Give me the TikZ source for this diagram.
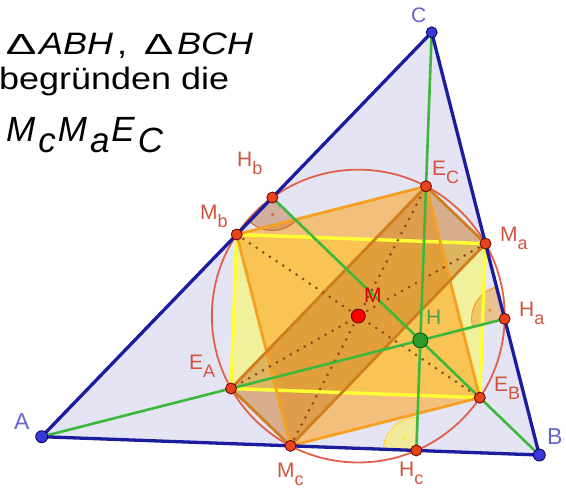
\documentclass[tikz,border=0pt]{standalone}
\usepackage{fontspec}
\setmainfont{Liberation Sans}
\newfontfamily\tf[FakeStretch=1.16]{Liberation Sans}
\usetikzlibrary{calc,angles}
\definecolor{tri}{HTML}{E4E4F5}
\definecolor{triedge}{HTML}{1C1CA0}
\definecolor{grn}{HTML}{3DB83D}
\definecolor{circ}{HTML}{E0604A}
\definecolor{yel}{HTML}{FFFF33}
\definecolor{org}{HTML}{FFA31A}
\definecolor{brn}{HTML}{CC7A22}
\definecolor{orgline}{HTML}{F5A020}
\definecolor{brnline}{HTML}{CF7E1E}
\definecolor{dotc}{HTML}{8E4A1E}
\definecolor{angorg}{HTML}{F5A030}
\definecolor{angbrn}{HTML}{C07038}
\definecolor{angyel}{HTML}{FFF040}
\definecolor{ptred}{HTML}{E8441C}
\definecolor{ptblue}{HTML}{3838D8}
\definecolor{ptgreen}{HTML}{2E9A2E}
\definecolor{labred}{HTML}{D4533C}
\definecolor{labblue}{HTML}{6464CC}
\definecolor{labgreen}{HTML}{4E9E4E}
\newcommand{\lsub}[1]{\raisebox{-8pt}{\fontsize{18}{18}\selectfont #1}}
\newcommand{\tsub}[1]{\kern3pt\raisebox{-11pt}{#1}\kern2pt}
\begin{document}
\begin{tikzpicture}[x=1pt,y=1pt,
  lab/.style={inner sep=0pt, anchor=base west, font=\fontsize{21}{21}\selectfont},
  ttl/.style={inner sep=0pt, anchor=base west},
  pt/.style={circle, inner sep=0pt, minimum size=11pt, draw=black!60!red, line width=0.8pt, fill=ptred},
  side/.style={line width=2.8pt, line join=round},
  anglemark/.style={angle radius=33pt, line width=1pt}]
\useasboundingbox (0,0) rectangle (566,492);
\coordinate (A) at (41.7,55.3);
\coordinate (B) at (539.3,37);
\coordinate (C) at (431.7,459.7);
\coordinate (Ha) at ($(B)!(A)!(C)$);
\coordinate (Hb) at ($(A)!(B)!(C)$);
\coordinate (Hc) at ($(A)!(C)!(B)$);
\coordinate (H) at (intersection of A--Ha and B--Hb);
\coordinate (Ma) at ($(B)!0.5!(C)$);
\coordinate (Mb) at ($(A)!0.5!(C)$);
\coordinate (Mc) at ($(A)!0.5!(B)$);
\coordinate (EA) at ($(A)!0.5!(H)$);
\coordinate (EB) at ($(B)!0.5!(H)$);
\coordinate (EC) at ($(C)!0.5!(H)$);
\coordinate (M) at ($(Ma)!0.5!(EA)$);
% triangle fill
\fill[tri] (A)--(B)--(C)--cycle;
% rectangle fills
\fill[yel, fill opacity=0.45] (Mb)--(Ma)--(EB)--(EA)--cycle;
\fill[org, fill opacity=0.55] (Mb)--(EC)--(EB)--(Mc)--cycle;
\fill[brn, fill opacity=0.5] (Mc)--(Ma)--(EC)--(EA)--cycle;
% nine-point circle
\draw[circ, line width=1.8pt] let \p1=($(Ma)-(M)$), \n1={veclen(\x1,\y1)} in (M) circle (\n1);
% right-angle marks
\pic[anglemark, draw=angorg, fill=angorg, fill opacity=0.5] {angle=C--Ha--A};
\pic[anglemark, draw=angbrn, fill=angbrn, fill opacity=0.45] {angle=A--Hb--B};
\pic[anglemark, draw=angyel!80!orange, fill=angyel, fill opacity=0.5] {angle=C--Hc--A};
\fill[angorg!90!black] ($($(Ha)!12pt!(C)$)+($(Ha)!12pt!(A)$)-(Ha)$) circle (1.8pt);
\fill[angbrn] ($($(Hb)!12pt!(A)$)+($(Hb)!12pt!(B)$)-(Hb)$) circle (1.8pt);
\fill[angyel!90!orange] ($($(Hc)!12pt!(C)$)+($(Hc)!12pt!(A)$)-(Hc)$) circle (1.8pt);
% rectangle sides
\draw[yel, side, line width=3.4pt] (Mb)--(Ma)--(EB)--(EA)--cycle;
\draw[orgline, side] (Mb)--(EC)--(EB)--(Mc)--cycle;
\draw[brnline, side] (Mc)--(Ma)--(EC)--(EA)--cycle;
% diameters
\draw[dotc, line width=3pt, line cap=round, dash pattern=on 0pt off 8pt] (Ma)--(EA) (Mb)--(EB) (Mc)--(EC);
% altitudes
\draw[grn, line width=2.6pt] (A)--(Ha) (B)--(Hb) (C)--(Hc);
% triangle sides
\draw[triedge, line width=3.3pt, line join=round] (A)--(B)--(C)--cycle;
% points
\node[pt] (pMa) at (Ma) {};
\node[pt] (pMb) at (Mb) {};
\node[pt] (pMc) at (Mc) {};
\node[pt] (pEA) at (EA) {};
\node[pt] (pEB) at (EB) {};
\node[pt] (pEC) at (EC) {};
\node[pt] (pHa) at (Ha) {};
\node[pt] (pHb) at (Hb) {};
\node[pt] (pHc) at (Hc) {};
\node[pt, fill=red, minimum size=14pt] (pM) at (M) {};
\node[pt, fill=ptgreen, draw=black!70!green, minimum size=15pt] (pH) at (H) {};
\node[pt, fill=ptblue, draw=black!70!blue, minimum size=12pt] (pA) at (A) {};
\node[pt, fill=ptblue, draw=black!70!blue, minimum size=12pt] (pB) at (B) {};
\node[pt, fill=ptblue, draw=black!70!blue, minimum size=11pt] (pC) at (C) {};
% labels
\node[lab, labblue, font=\fontsize{23}{23}\selectfont] (lA) at (14,62) {A};
\node[lab, labblue, font=\fontsize{23}{23}\selectfont] (lB) at (547,47) {B};
\node[lab, labblue, font=\fontsize{21}{21}\selectfont] (lC) at (411,469) {C};
\node[lab, labred] (lHb) at (237,325) {H\lsub{b}};
\node[lab, labred] (lMb) at (200,272) {M\lsub{b}};
\node[lab, labred] (lEC) at (432,316) {E\lsub{C}};
\node[lab, labred] (lMa) at (500,250) {M\lsub{a}};
\node[lab, labred] (lHa) at (519,175) {H\lsub{a}};
\node[lab, red!85!black] (lM) at (364,189) {M};
\node[lab, labgreen] (lH) at (426,167) {H};
\node[lab, labred] (lEA) at (189,122) {E\lsub{A}};
\node[lab, labred] (lEB) at (494,100) {E\lsub{B}};
\node[lab, labred] (lMc) at (277,14) {M\lsub{c}};
\node[lab, labred] (lHc) at (399,15) {H\lsub{c}};
% title text
\node[ttl, font=\tf\fontsize{31}{31}\selectfont] (d1) at (7,437) {\resizebox{28pt}{20pt}{∆}};
\node[ttl, font=\tf\fontsize{31}{31}\selectfont\itshape] (t1) at (39,437) {ABH};
\node[ttl, font=\tf\fontsize{31}{31}\selectfont] (t1c) at (117,437) {,};
\node[ttl, font=\tf\fontsize{31}{31}\selectfont] (d2) at (145,437) {\resizebox{27pt}{20pt}{∆}};
\node[ttl, font=\tf\fontsize{31}{31}\selectfont\itshape] (t2) at (177,437) {BCH};
\node[ttl, font=\tf\fontsize{31}{31}\selectfont] (t3) at (-1,402) {begründen die};
\node[ttl, font=\fontsize{35}{35}\selectfont\itshape] (t4) at (6,350) {M\tsub{c}M\tsub{a}E\tsub{C}};
\end{tikzpicture}
\end{document}
